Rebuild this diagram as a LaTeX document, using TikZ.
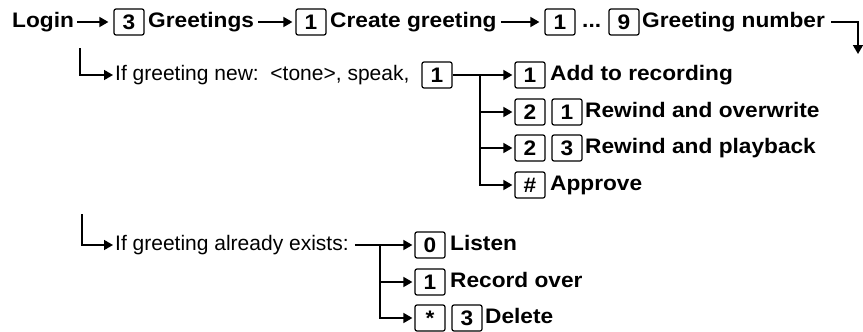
\documentclass[tikz,border=0pt]{standalone}
\usepackage{fontspec}
\setmainfont{Liberation Sans}
\newfontfamily\labfont{Liberation Sans}[FakeStretch=1.08]
\usetikzlibrary{arrows.meta}
\definecolor{ink}{HTML}{000000}
\tikzset{
  key/.style={draw=ink, line width=1.2pt, rounded corners=2pt, minimum width=30pt, minimum height=26pt, inner sep=0pt, font=\labfont\bfseries\fontsize{21}{24}\selectfont},
  lab/.style={anchor=west, inner sep=0pt, text height=15pt, text depth=4pt, font=\labfont\bfseries\fontsize{21}{24}\selectfont},
  note/.style={anchor=west, inner sep=0pt, text height=15pt, text depth=4pt, font=\fontsize{21}{24}\selectfont},
  wire/.style={draw=ink, line width=1.6pt},
  link/.style={wire, -{Triangle[length=9pt,width=10pt]}},
}

\begin{document}
\begin{tikzpicture}[x=1pt,y=-1pt]
  \useasboundingbox (0,0) rectangle (863,332);
  % main path
  \node[lab] (login) at (12,22) {Login};
  \node[key] (kgreet) at (129,22) {3};
  \node[lab] (greet) at (148,22) {Greetings};
  \node[key] (kcreate) at (311,22) {1};
  \node[lab] (create) at (330,22) {Create greeting};
  \node[key] (kfirst) at (560,22) {1};
  \node[lab] (dots) at (582,22) {...};
  \node[key] (klast) at (624,22) {9};
  \node[lab] (number) at (642,22) {Greeting number};
  \coordinate (turn) at (858,22);
  \coordinate (down) at (858,54);
  \draw[link,shorten <=3pt,shorten >=5pt] (login) -- (kgreet);
  \draw[link,shorten <=4pt,shorten >=3pt] (greet) -- (kcreate);
  \draw[link,shorten <=4pt,shorten >=5pt] (create) -- (kfirst);
  \draw[link,shorten <=6pt] (number) -- (turn) -- (down);

  % new greeting
  \coordinate (drop) at (80,48);
  \node[note] (ifnew) at (115,75) {If greeting new:\ \ <tone>, speak,};
  \node[key] (knew) at (437,75) {1};
  \coordinate (fork) at (480,75);
  \node[key] (kadd) at (530,75) {1};
  \node[lab] (add) at (550,75) {Add to recording};
  \node[key] (krw) at (530,112) {2};
  \node[key] (krw1) at (567,112) {1};
  \node[lab] (rwover) at (585,112) {Rewind and overwrite};
  \node[key] (krp) at (530,148) {2};
  \node[key] (krp3) at (567,148) {3};
  \node[lab] (rwplay) at (585,148) {Rewind and playback};
  \node[key] (kok) at (530,185) {\#};
  \node[lab] (approve) at (550,185) {Approve};
  \draw[link,shorten >=2pt] (drop) |- (ifnew);
  \draw[link,shorten >=2pt] (knew) -- (kadd);
  \foreach \k in {krw,krp,kok}
    \draw[link,shorten >=2pt] (fork) |- (\k);

  % existing greeting
  \coordinate (drop2) at (82,214);
  \node[note] (ifold) at (115,245) {If greeting already exists:};
  \coordinate (fork2) at (380,245);
  \node[key] (klisten) at (430,245) {0};
  \node[lab] (listen) at (450,245) {Listen};
  \node[key] (kover) at (430,282) {1};
  \node[lab] (over) at (450,282) {Record over};
  \node[key] (kdel) at (430,318) {\raisebox{-5pt}{*}};
  \node[key] (kdel3) at (467,318) {3};
  \node[lab] (del) at (485,318) {Delete};
  \draw[link,shorten >=2pt] (drop2) |- (ifold);
  \draw[link,shorten <=6pt,shorten >=2pt] (ifold) -- (klisten);
  \foreach \k in {kover,kdel}
    \draw[link,shorten >=2pt] (fork2) |- (\k);
\end{tikzpicture}
\end{document}
